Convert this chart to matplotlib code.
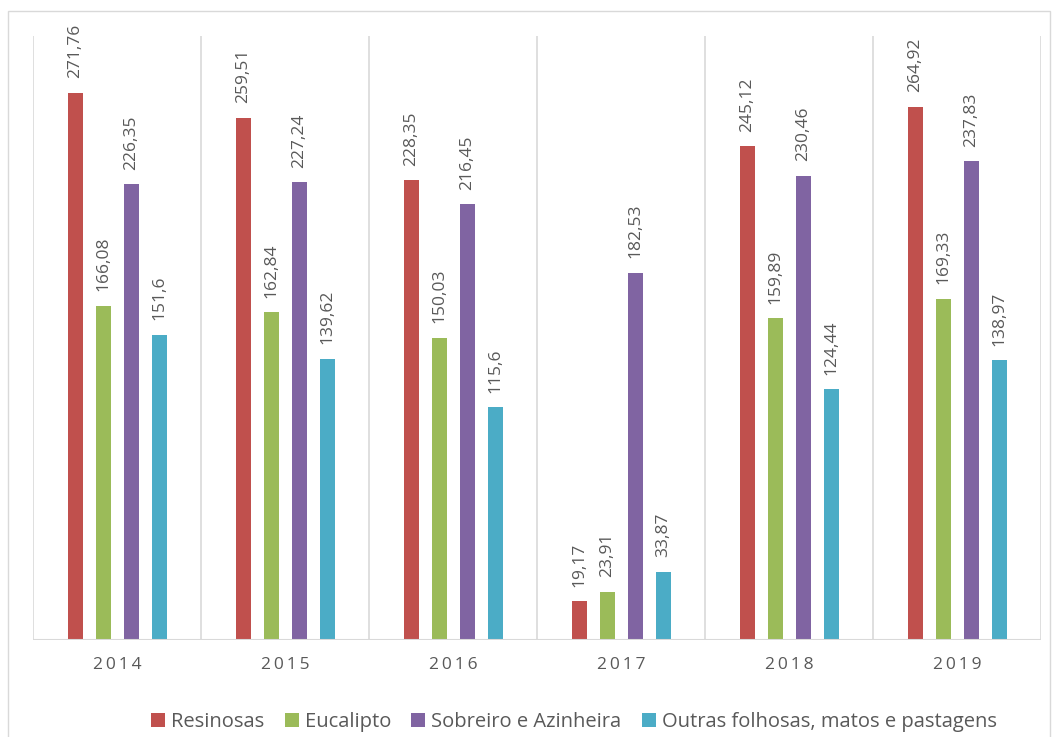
import matplotlib
matplotlib.use("Agg")
import matplotlib.pyplot as plt
from matplotlib.patches import Rectangle
import numpy as np

years = ["2014", "2015", "2016", "2017", "2018", "2019"]
series_names = ["Resinosas", "Eucalipto", "Sobreiro e Azinheira",
                "Outras folhosas, matos e pastagens"]
resinosas = [271.76, 259.51, 228.35, 19.17, 245.12, 264.92]
eucalipto = [166.08, 162.84, 150.03, 23.91, 159.89, 169.33]
sobreiro = [226.35, 227.24, 216.45, 182.53, 230.46, 237.83]
outras = [151.6, 139.62, 115.6, 33.87, 124.44, 138.97]
labels_txt = [
    ["271,76", "259,51", "228,35", "19,17", "245,12", "264,92"],
    ["166,08", "162,84", "150,03", "23,91", "159,89", "169,33"],
    ["226,35", "227,24", "216,45", "182,53", "230,46", "237,83"],
    ["151,6", "139,62", "115,6", "33,87", "124,44", "138,97"],
]
colors = ["#C0504D", "#9BBB59", "#8064A2", "#4BACC6"]

plt.rcParams['font.family'] = ['Open Sans', 'DejaVu Sans']

fig = plt.figure(figsize=(10.53, 7.37), dpi=100)
ax = fig.add_axes([33/1053, 1-640/737, (1041-33)/1053, (640-36)/737])

# figure border
fig.patches.append(Rectangle((8/1053, -0.01), (1050-8)/1053, 1.01 - 11/737,
                             transform=fig.transFigure, fill=False,
                             edgecolor="#d9d9d9", linewidth=1.0))

x = np.arange(len(years))
spacing = 28/168
width = 15/168
data = [resinosas, eucalipto, sobreiro, outras]
offsets = [-1.5, -0.5, 0.5, 1.5]
for i, (vals, c, name) in enumerate(zip(data, colors, series_names)):
    xs = x + offsets[i]*spacing
    ax.bar(xs, vals, width=width, color=c, label=name, zorder=3)
    for xi, v, t in zip(xs, vals, labels_txt[i]):
        ax.annotate(t, (xi, v), xytext=(0, 10.5), textcoords="offset points",
                    rotation=90, ha="center", va="bottom",
                    fontsize=12.5, color="#595959")

ax.set_xlim(-0.5, len(years)-0.5)
ax.set_ylim(0, 300)
for b in np.arange(-0.5, len(years), 1.0):
    ax.axvline(b, color="#d9d9d9", linewidth=1.2, zorder=1)
ax.axhline(0, color="#d9d9d9", linewidth=1.5, zorder=4)
for s in ax.spines.values():
    s.set_visible(False)
ax.set_yticks([])
ax.set_xticks(x)
ax.set_xticklabels(["\u2009".join(list(y)) for y in years], fontsize=12.5,
                   color="#595959")
ax.tick_params(axis="x", length=0, pad=12)

handles, lbls = ax.get_legend_handles_labels()
fig.legend(handles, lbls, loc="center", bbox_to_anchor=(574/1053, 1-722/737),
           ncol=4, frameon=False, fontsize=14.5, handlelength=0.7,
           handleheight=0.7, handletextpad=0.3, columnspacing=1.0,
           labelcolor="#595959")

fig.savefig("out.png", dpi=100)
